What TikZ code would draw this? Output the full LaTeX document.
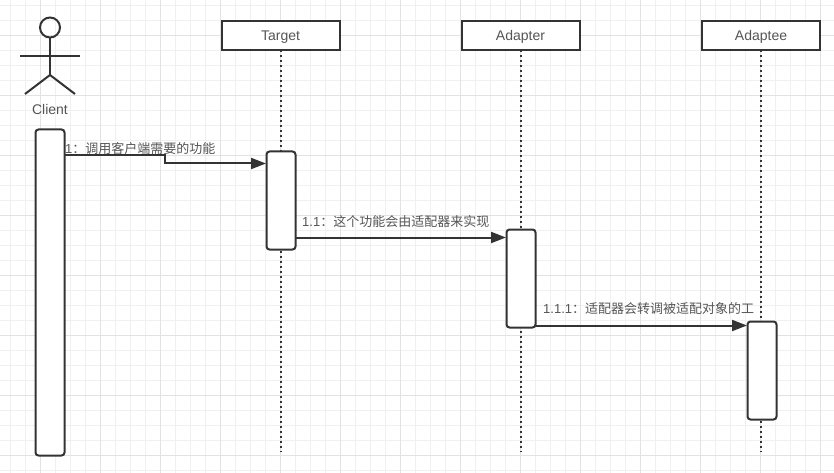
\documentclass[tikz,border=0pt]{standalone}
\usepackage{fontspec}
\setmainfont{Liberation Sans}
\newfontfamily\cjk{Noto Sans CJK SC}
\usetikzlibrary{arrows.meta,calc}
\definecolor{ink}{HTML}{333333}
\definecolor{labelgray}{HTML}{555555}
\definecolor{gridminor}{HTML}{F0F0F0}
\definecolor{gridmajor}{HTML}{E2E2E2}
\tikzset{
  objbox/.style={draw=ink,line width=2pt,fill=white,minimum width=118pt,minimum height=29pt,inner sep=0pt,outer sep=0pt,text=labelgray,font=\fontsize{14}{16}\selectfont,text height=10pt,text depth=0pt},
  actbox/.style={draw=ink,line width=2pt,fill=white,rounded corners=3pt,minimum width=29pt,inner sep=0pt,outer sep=0pt},
  lifeline/.style={draw=ink,line width=2pt,dash pattern=on 2pt off 3pt},
  msg/.style={draw=ink,line width=2pt,-{Triangle[length=15pt,width=11pt]},shorten >=0.5pt},
  msglabel/.style={text=labelgray,inner sep=0pt,anchor=west,font=\fontsize{13}{15}\selectfont},
  actorline/.style={draw=ink,line width=2pt},
}
\begin{document}
\begin{tikzpicture}[x=1pt,y=-1pt]
\useasboundingbox (0,0) rectangle (834,473);
\clip (0,0) rectangle (834,473);
\fill[white] (0,0) rectangle (834,473);
% grid
\foreach \k in {0,...,55} \draw[gridminor,line width=1pt] ({10.5+15*\k},0) -- ({10.5+15*\k},473);
\foreach \k in {0,...,31} \draw[gridminor,line width=1pt] (0,{5.5+15*\k}) -- (834,{5.5+15*\k});
\foreach \k in {0,...,13} \draw[gridmajor,line width=1pt] ({40.5+60*\k},0) -- ({40.5+60*\k},473);
\foreach \k in {0,...,7} \draw[gridmajor,line width=1pt] (0,{35.5+60*\k}) -- (834,{35.5+60*\k});
% free ends of lifelines
\coordinate (endT) at (280.5,452);
\coordinate (endA) at (520.5,452);
\coordinate (endE) at (761,452);
% objects
\node[objbox] (target) at (280.5,36) {Target};
\node[objbox] (adapter) at (520.5,36) {Adapter};
\node[objbox] (adaptee) at (761,36) {Adaptee};
\draw[lifeline] (target.south) -- (endT);
\draw[lifeline] (adapter.south) -- (endA);
\draw[lifeline] (adaptee.south) -- (endE);
% activations
\node[actbox,minimum height=326pt] (actC) at (50,292.5) {};
\node[actbox,minimum height=98pt] (actT) at (281,200.5) {};
\node[actbox,minimum height=98pt] (actA) at (521,278.5) {};
\node[actbox,minimum height=98pt] (actE) at (762,370.5) {};
% actor
\node[draw=ink,line width=2pt,circle,minimum size=20pt,inner sep=0pt,outer sep=0pt] (head) at (50,27.5) {};
\coordinate (hip) at (50,75);
\coordinate (armL) at (20,56);
\coordinate (armR) at (80,56);
\coordinate (legL) at (25,94);
\coordinate (legR) at (75,94);
\draw[actorline] (head.south) -- (hip);
\draw[actorline] (armL) -- (armR);
\draw[actorline] (legL) -- (hip) -- (legR);
\node[text=labelgray,inner sep=0pt,font=\fontsize{14}{16}\selectfont] (client) at (50,109.5) {Client};
% messages
\draw[msg] (actC.east |- 0,155) -- (165,155) -- (165,163.5) -- (actT.west |- 0,163.5);
\draw[msg] (actT.east |- 0,237.5) -- (actA.west |- 0,237.5);
\draw[msg] (actA.east |- 0,325.5) -- (actE.west |- 0,325.5);
% labels
\node[msglabel] (m1) at (65,148.5) {1{\cjk：调用客户端需要的功能}};
\node[msglabel] (m2) at (302,221.5) {1.1{\cjk：这个功能会由适配器来实现}};
\node[msglabel] (m3) at (543,308.5) {1.1.1{\cjk：适配器会转调被适配对象的工}};
\end{tikzpicture}
\end{document}
